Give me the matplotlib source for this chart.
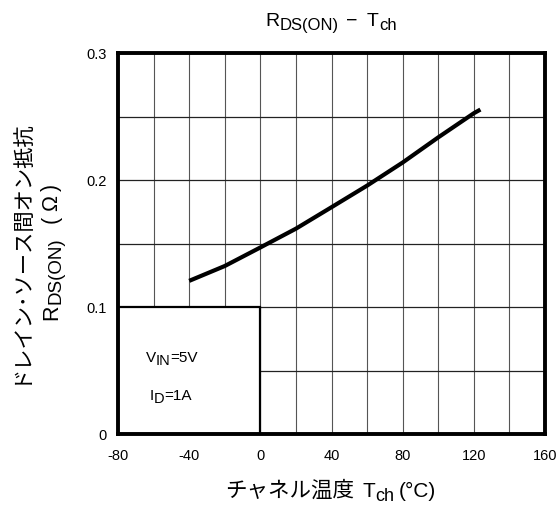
import math
import matplotlib
matplotlib.use("Agg")
import matplotlib.pyplot as plt
from matplotlib.patches import Rectangle
from matplotlib.ticker import MultipleLocator, FixedLocator

LATIN = ['Liberation Sans', 'Noto Sans CJK JP', 'DejaVu Sans']
CJK = ['Noto Sans CJK JP', 'Liberation Sans', 'DejaVu Sans']
plt.rcParams['font.family'] = LATIN
plt.rcParams['axes.unicode_minus'] = False

# data
temp_c = [-40, -20, 0, 20, 40, 60, 80, 100, 120, 123.7]
rds_on = [0.1206, 0.1323, 0.1469, 0.1617, 0.1786, 0.1956, 0.2138, 0.2336, 0.2526, 0.2555]
x_ticks = [-80, -40, 0, 40, 80, 120, 160]
y_ticks = [0, 0.1, 0.2, 0.3]
y_tick_labels = ['0', '0.1', '0.2', '0.3']

# rich-text pieces: (text, fontsize, drop_px, gap_before_px, family)
title_pieces = [('R', 14, 0, 0, LATIN), ('DS(ON)', 12, 4, 0, LATIN),
                ('−', 14, 0, 7, LATIN), ('T', 14, 0, 10, LATIN), ('ch', 12, 4, 0, LATIN)]
xlabel_pieces = [('チャネル温度', 15.5, 0, 0, CJK), ('T', 15, 0, 8, LATIN), ('ch', 13, 4, 0, LATIN),
                 ('(°C)', 15, 0, 5, LATIN)]
ylabel1_pieces = [('ドレイン･ソース間オン抵抗', 15.3, 0, 0, CJK)]
ylabel2_pieces = [('R', 15.5, 0, 0, LATIN), ('DS(ON)', 13.5, 4, 0, LATIN),
                  ('(', 15.5, 0, 15, LATIN), ('Ω', 15.5, 0, 4, LATIN), (')', 15.5, 0, 4, LATIN)]
cond1_pieces = [('V', 11, 0, 0, LATIN), ('IN', 10.5, 3, 0, LATIN), ('=5V', 11, 0, 0, LATIN)]
cond2_pieces = [('I', 11, 0, 0, LATIN), ('D', 10.5, 3, 0, LATIN), ('=1A', 11, 0, 0, LATIN)]

fig = plt.figure(figsize=(5.58, 5.12), dpi=100)
W, H = fig.get_size_inches() * fig.dpi
renderer = fig.canvas.get_renderer()


def rich(x_px, y_px, pieces, rotation=0, center=True):
    """Draw pieces along a baseline; (x_px,y_px) is the centre (or start) of the baseline in pixels."""
    widths = []
    for txt, fs, drop, gap, fam in pieces:
        t = fig.text(0, 0, txt, fontsize=fs, family=fam)
        widths.append(t.get_window_extent(renderer).width)
        t.remove()
    total = sum(widths) + sum(p[3] for p in pieces)
    r = math.radians(rotation)
    u = (math.cos(r), math.sin(r))
    n = (math.sin(r), -math.cos(r))
    cum = -total / 2 if center else 0
    for (txt, fs, drop, gap, fam), w in zip(pieces, widths):
        cum += gap
        px = x_px + cum * u[0] + drop * n[0]
        py = y_px + cum * u[1] + drop * n[1]
        fig.text(px / W, py / H, txt, fontsize=fs, family=fam, rotation=rotation,
                 rotation_mode='anchor', ha='left', va='baseline', zorder=5)
        cum += w


ax = fig.add_axes([0.2115, 0.1523, 0.7652, 0.7441])
ax.set_xlim(-80, 160)
ax.set_ylim(0, 0.3)

ax.xaxis.set_major_locator(FixedLocator(x_ticks))
ax.xaxis.set_minor_locator(MultipleLocator(20))
ax.yaxis.set_major_locator(FixedLocator(y_ticks))
ax.yaxis.set_minor_locator(MultipleLocator(0.05))
ax.set_yticklabels(y_tick_labels)
ax.tick_params(which='both', length=0, labelsize=10.5)
ax.tick_params(axis='x', pad=11)
ax.tick_params(axis='y', pad=8)
ax.grid(which='both', axis='x', color='#555555', lw=0.8)
ax.grid(which='both', axis='y', color='#222222', lw=0.9)
ax.set_axisbelow(True)
for s in ax.spines.values():
    s.set_linewidth(2.8)

ax.add_patch(Rectangle((-80, 0), 80, 0.1, facecolor='white', edgecolor='black', lw=1.6, zorder=2))
ax.plot(temp_c, rds_on, color='black', lw=3.0, solid_capstyle='butt', zorder=4)


def data_px(x, y):
    return ax.transData.transform((x, y))


cx, cy = data_px(-64.5, 0.057)
rich(cx, cy, cond1_pieces, center=False)
cx, cy = data_px(-62.5, 0.027)
rich(cx, cy, cond2_pieces, center=False)

# labels (pixel positions from bottom-left)
rich(331, H - 26, title_pieces)
rich(331, H - 497, xlabel_pieces)
rich(26, H - 251, ylabel1_pieces, rotation=90)
rich(57, H - 252, ylabel2_pieces, rotation=90)

fig.savefig('out.png', dpi=100)
